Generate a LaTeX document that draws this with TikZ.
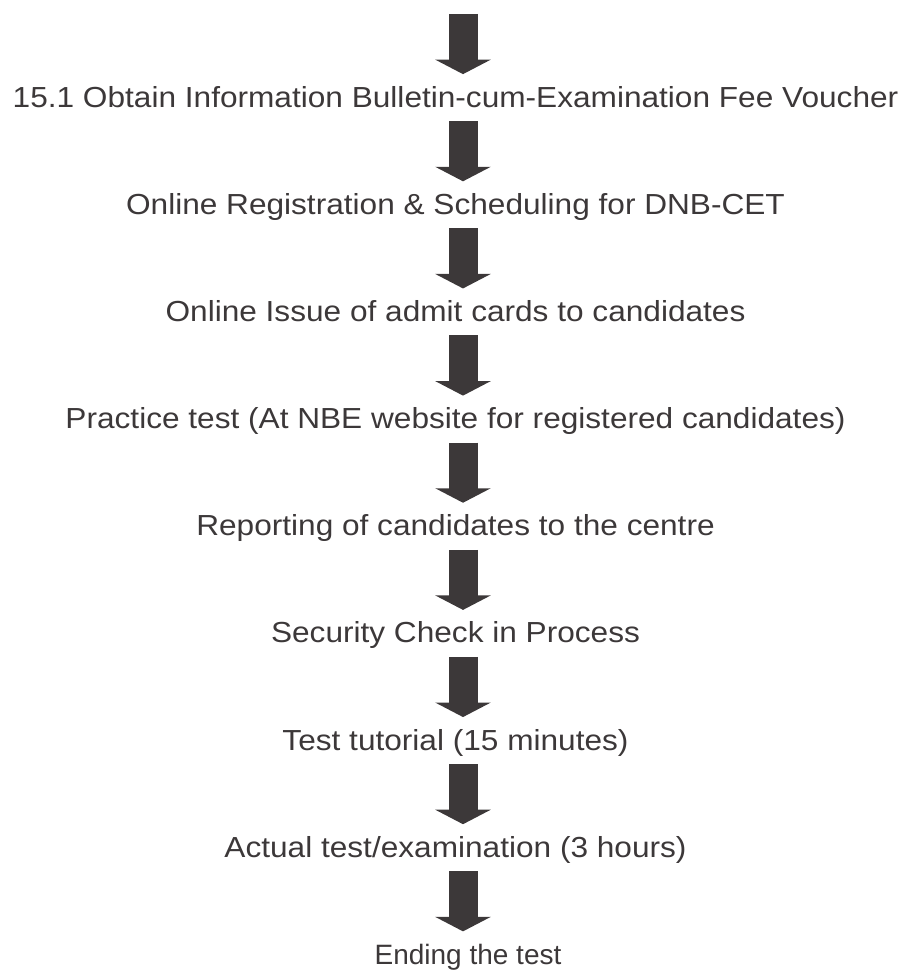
\documentclass[tikz,border=0pt]{standalone}
\usepackage{fontspec}
\setmainfont{Liberation Sans}[FakeStretch=1.09]
\newfontfamily\endingfont{Liberation Sans}
\usepackage{tikz}
\usetikzlibrary{arrows.meta}
\definecolor{flowgray}{RGB}{60,56,57}
\tikzset
{
    stepnode/.style   = {inner sep=0pt, text height=10.5pt, text depth=3pt, text=flowgray, font=\fontsize{14.5pt}{17pt}\selectfont},
    endnode/.style    = {stepnode, font=\endingfont\fontsize{14pt}{17pt}\selectfont, xshift=6.25pt},
    blockarrow/.style = {draw=flowgray, line width=14.5pt, -{Triangle[width=27.5pt,length=7.25pt]}}
}

\begin{document}
\begin{tikzpicture}[level distance=53.575pt, edge from parent/.style={blockarrow},
    edge from parent path={([shift={(3.75pt,-7pt)}]\tikzparentnode.base) -- ([shift={(3.75pt,16.5pt)}]\tikzparentnode.base |- \tikzchildnode.base)}]
    \useasboundingbox (0,0) rectangle (454pt,-486.5pt);
    \node [stepnode] (top) at (227.75pt,3.75pt) {}
    child
    {
        node [stepnode] (s1) {15.1 Obtain Information Bulletin-cum-Examination Fee Voucher}
        child
        {
            node [stepnode] (s2) {Online Registration \& Scheduling for DNB-CET}
            child
            {
                node [stepnode] (s3) {Online Issue of admit cards to candidates}
                child
                {
                    node [stepnode] (s4) {Practice test (At NBE website for registered candidates)}
                    child
                    {
                        node [stepnode] (s5) {Reporting of candidates to the centre}
                        child
                        {
                            node [stepnode] (s6) {Security Check in Process}
                            child
                            {
                                node [stepnode] (s7) {Test tutorial (15 minutes)}
                                child
                                {
                                    node [stepnode] (s8) {Actual test/examination (3 hours)}
                                    child
                                    {
                                        node [endnode] (s9) {Ending the test}
                                    }
                                }
                            }
                        }
                    }
                }
            }
        }
    }
;
\end{tikzpicture}
\end{document}
